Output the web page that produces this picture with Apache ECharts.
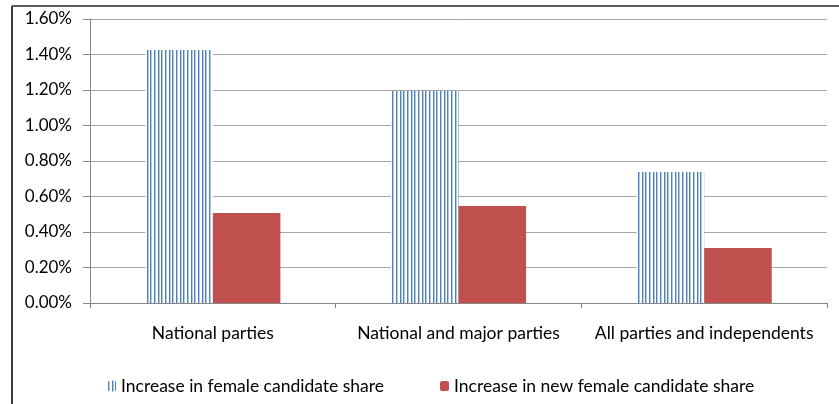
<!DOCTYPE html>
<html>
<head>
<meta charset="utf-8">
<script src="https://cdn.jsdelivr.net/npm/echarts@6/dist/echarts.min.js"></script>
<style>
    html, body { margin: 0; padding: 0; background: #fff; }
    #chart { width: 839px; height: 404px; }
</style>
</head>
<body>
<div id="chart"></div>
<script>
const categories = ['National parties', 'National and major parties', 'All parties and independents'];
const femaleShare = [1.425, 1.195, 0.738];
const newFemaleShare = [0.507, 0.547, 0.31];
const yTicks = { min: 0, max: 1.6, interval: 0.2 };

// vertical stripe fill like the excel pattern
function stripes() {
    const c = document.createElement('canvas');
    c.width = 11;
    c.height = 8;
    const ctx = c.getContext('2d');
    ctx.fillStyle = '#fff';
    ctx.fillRect(0, 0, 11, 8);
    [0, 4, 7].forEach(function (x) {
        ctx.fillStyle = '#4F81BD';
        ctx.fillRect(x, 0, 1, 8);
        ctx.fillStyle = '#B3C8E3';
        ctx.fillRect(x + 1, 0, 1, 8);
    });
    return c;
}
const stripeFill = { image: stripes(), repeat: 'repeat' };

const font = 'Lato';
const chart = echarts.init(document.getElementById('chart'));
chart.setOption({
    animation: false,
    grid: { left: 90, right: 12, top: 19, bottom: 101 },
    graphic: [
        { type: 'line', shape: { x1: 12, y1: 6, x2: 839, y2: 6 }, style: { stroke: '#5a5a5a', lineWidth: 2 } },
        { type: 'line', shape: { x1: 12, y1: 6, x2: 12, y2: 404 }, style: { stroke: '#3a3a3a', lineWidth: 2 } }
    ],
    legend: [
        {
            left: 103, top: 372,
            data: [{ name: 'Increase in female candidate share' }],
            itemWidth: 8, itemHeight: 11, itemGap: 0,
            textStyle: { fontFamily: font, fontSize: 17.5, color: '#000' }
        },
        {
            left: 435, top: 372,
            data: [{ name: 'Increase in new female candidate share' }],
            itemWidth: 9, itemHeight: 10,
            textStyle: { fontFamily: font, fontSize: 17.5, color: '#000' }
        }
    ],
    xAxis: {
        type: 'category',
        data: categories,
        axisLine: { lineStyle: { color: '#868686' } },
        axisTick: { show: true, length: 5, lineStyle: { color: '#868686' } },
        axisLabel: { interval: 0, hideOverlap: false, margin: 21, fontFamily: font, fontSize: 17.5, color: '#000' }
    },
    yAxis: {
        type: 'value',
        min: yTicks.min,
        max: yTicks.max,
        interval: yTicks.interval,
        axisLine: { show: true, lineStyle: { color: '#868686' } },
        axisTick: { show: true, length: 7, lineStyle: { color: '#868686' } },
        splitLine: { lineStyle: { color: '#a6a6a6' } },
        axisLabel: {
            margin: 18, fontFamily: font, fontSize: 17, color: '#000',
            formatter: function (v) { return v.toFixed(2) + '%'; }
        }
    },
    series: [
        {
            name: 'Increase in female candidate share',
            type: 'bar',
            data: femaleShare,
            barGap: '0%',
            barCategoryGap: '45%',
            itemStyle: { color: stripeFill }
        },
        {
            name: 'Increase in new female candidate share',
            type: 'bar',
            data: newFemaleShare,
            itemStyle: { color: '#C0504D' }
        }
    ]
});
</script>
</body>
</html>
